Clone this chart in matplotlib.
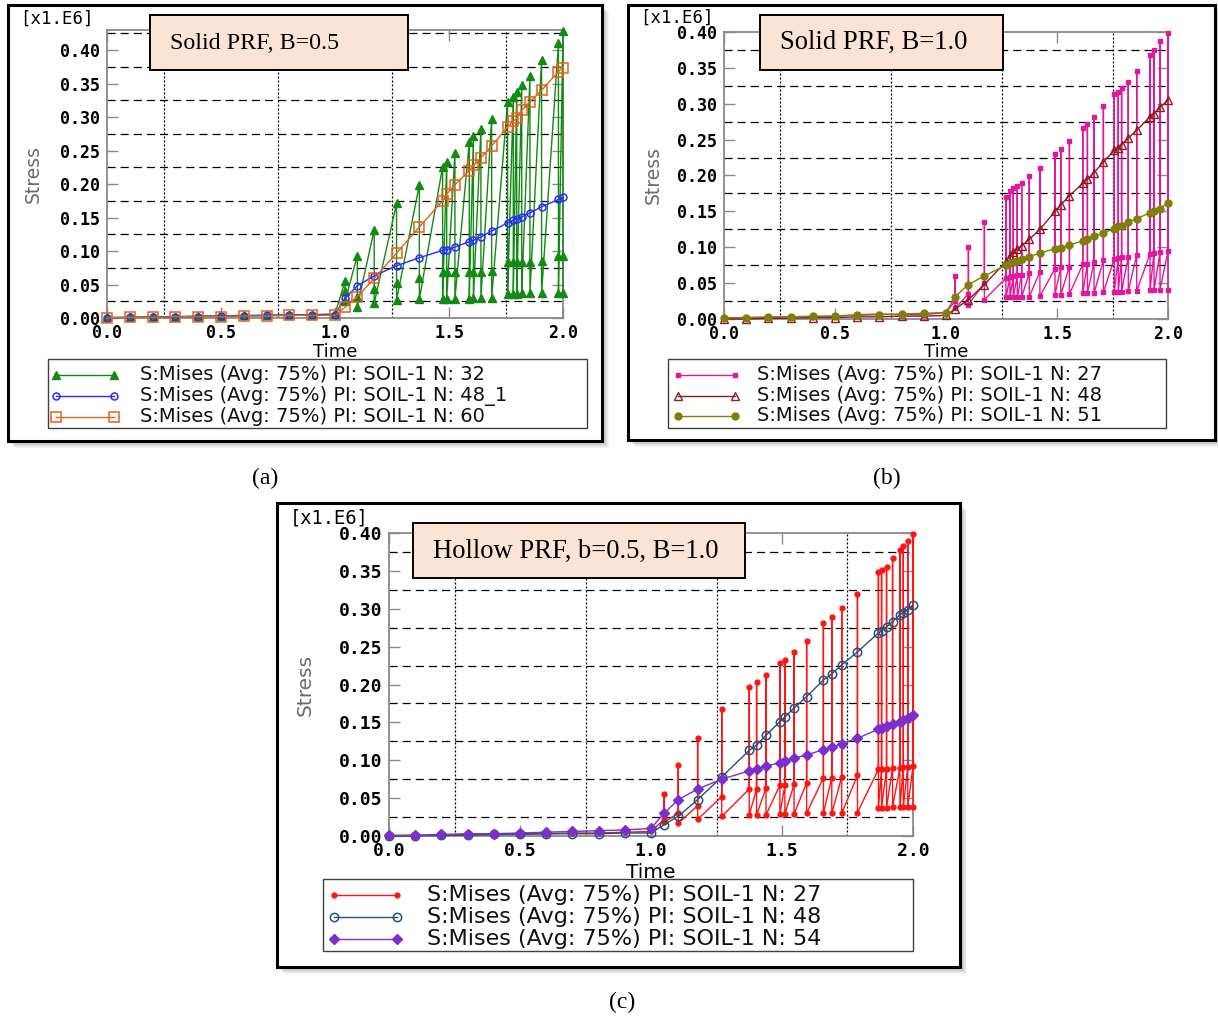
import matplotlib
matplotlib.use("Agg")
import matplotlib.pyplot as plt
from matplotlib.patches import Rectangle
from matplotlib.lines import Line2D
import numpy as np

W, H = 1218, 1017

# ---- shared time stamps of the first (loading) step -------------------------
T_STEP1 = [0.0, 0.1, 0.2, 0.3, 0.4, 0.5, 0.6, 0.7, 0.8, 0.9, 1.0]

# ---- (a) Solid PRF, B=0.5 ---------------------------------------------------
TA = [1.044, 1.098, 1.172, 1.27, 1.37, 1.472, 1.49, 1.526, 1.589, 1.607,
      1.64, 1.687, 1.757, 1.782, 1.797, 1.819, 1.855, 1.906, 1.98, 2.0]
A32_S1 = [0.001, 0.001, 0.002, 0.002, 0.003, 0.003, 0.004, 0.004, 0.005, 0.005, 0.006]
A32_HI = [0.055, 0.093, 0.132, 0.171, 0.199, 0.226, 0.233, 0.247, 0.263, 0.271,
          0.282, 0.297, 0.323, 0.330, 0.338, 0.348, 0.361, 0.385, 0.410, 0.429]
A32_MID = [0.040, 0.032, 0.043, 0.053, 0.060, 0.068, 0.068, 0.068, 0.069, 0.069,
           0.069, 0.070, 0.083, 0.083, 0.084, 0.084, 0.084, 0.085, 0.092, 0.093]
A32_LO = [0.025, 0.017, 0.022, 0.027, 0.028, 0.029, 0.029, 0.029, 0.029, 0.030,
          0.030, 0.030, 0.036, 0.036, 0.036, 0.037, 0.037, 0.037, 0.037, 0.037]
A48_S1 = [0.000, 0.001, 0.001, 0.002, 0.002, 0.003, 0.003, 0.004, 0.004, 0.005, 0.005]
A48 = [0.030, 0.048, 0.063, 0.078, 0.090, 0.101, 0.102, 0.106, 0.114, 0.116,
       0.121, 0.130, 0.142, 0.146, 0.148, 0.151, 0.157, 0.166, 0.177, 0.180]
A60_S1 = [0.000, 0.001, 0.001, 0.002, 0.002, 0.002, 0.003, 0.003, 0.004, 0.004, 0.004]
A60 = [0.016, 0.032, 0.059, 0.097, 0.136, 0.175, 0.185, 0.199, 0.220, 0.228,
       0.239, 0.257, 0.285, 0.294, 0.298, 0.310, 0.323, 0.340, 0.368, 0.374]
A_LABELS = ["S:Mises (Avg: 75%) PI: SOIL-1 N: 32",
            "S:Mises (Avg: 75%) PI: SOIL-1 N: 48_1",
            "S:Mises (Avg: 75%) PI: SOIL-1 N: 60"]

# ---- (b) Solid PRF, B=1.0 ---------------------------------------------------
TB = [1.041, 1.101, 1.173, 1.270, 1.288, 1.303, 1.321, 1.341, 1.375, 1.423,
      1.491, 1.517, 1.556, 1.616, 1.637, 1.667, 1.709, 1.758, 1.776, 1.791,
      1.821, 1.859, 1.919, 1.937, 1.964, 2.0]
B27_S1 = [0.001, 0.002, 0.002, 0.003, 0.003, 0.004, 0.006, 0.007, 0.006, 0.006, 0.009]
B27_HI = [0.060, 0.100, 0.135, 0.170, 0.178, 0.182, 0.185, 0.189, 0.199, 0.210,
          0.230, 0.237, 0.248, 0.266, 0.272, 0.282, 0.297, 0.314, 0.317, 0.322,
          0.331, 0.345, 0.368, 0.375, 0.387, 0.399]
B27_MID = [0.025, 0.035, 0.050, 0.057, 0.058, 0.060, 0.061, 0.062, 0.064, 0.066,
           0.070, 0.072, 0.073, 0.076, 0.077, 0.079, 0.082, 0.084, 0.085, 0.086,
           0.087, 0.089, 0.091, 0.092, 0.093, 0.095]
B27_LO = [0.015, 0.020, 0.027, 0.030, 0.030, 0.030, 0.030, 0.031, 0.031, 0.032,
          0.034, 0.034, 0.035, 0.036, 0.036, 0.036, 0.037, 0.038, 0.038, 0.038,
          0.039, 0.039, 0.040, 0.040, 0.041, 0.041]
B48_S1 = [0.000, 0.000, 0.001, 0.001, 0.002, 0.002, 0.003, 0.003, 0.004, 0.004, 0.005]
B48 = [0.014, 0.027, 0.048, 0.080, 0.088, 0.093, 0.097, 0.102, 0.111, 0.125,
       0.150, 0.159, 0.172, 0.189, 0.195, 0.204, 0.219, 0.235, 0.239, 0.243,
       0.252, 0.263, 0.282, 0.286, 0.295, 0.305]
B51_S1 = [0.002, 0.002, 0.003, 0.003, 0.004, 0.004, 0.005, 0.006, 0.007, 0.008, 0.009]
B51 = [0.031, 0.048, 0.060, 0.075, 0.078, 0.080, 0.081, 0.083, 0.087, 0.092,
       0.098, 0.099, 0.103, 0.109, 0.111, 0.115, 0.120, 0.126, 0.129, 0.130,
       0.135, 0.140, 0.148, 0.151, 0.154, 0.162]
B_LABELS = ["S:Mises (Avg: 75%) PI: SOIL-1 N: 27",
            "S:Mises (Avg: 75%) PI: SOIL-1 N: 48",
            "S:Mises (Avg: 75%) PI: SOIL-1 N: 51"]

# ---- (c) Hollow PRF, b=0.5, B=1.0 -------------------------------------------
TC = [1.05, 1.104, 1.178, 1.27, 1.375, 1.403, 1.439, 1.492, 1.511, 1.546,
      1.594, 1.658, 1.690, 1.728, 1.788, 1.868, 1.880, 1.899, 1.922, 1.950,
      1.963, 1.980, 2.0]
C27_S1 = [0.000, 0.001, 0.001, 0.002, 0.002, 0.003, 0.003, 0.004, 0.004, 0.005, 0.006]
C27_HI = [0.055, 0.094, 0.130, 0.167, 0.197, 0.203, 0.212, 0.228, 0.233, 0.243,
          0.258, 0.281, 0.289, 0.301, 0.319, 0.348, 0.351, 0.355, 0.367, 0.378,
          0.383, 0.390, 0.399]
C27_MID = [0.022, 0.030, 0.040, 0.052, 0.062, 0.062, 0.063, 0.067, 0.067, 0.068,
           0.070, 0.077, 0.077, 0.078, 0.080, 0.088, 0.088, 0.089, 0.090, 0.090,
           0.091, 0.091, 0.092]
C27_LO = [0.018, 0.017, 0.022, 0.026, 0.028, 0.028, 0.028, 0.029, 0.029, 0.029,
          0.030, 0.030, 0.030, 0.030, 0.031, 0.037, 0.037, 0.037, 0.038, 0.038,
          0.038, 0.038, 0.038]
C48_S1 = [0.000, 0.000, 0.001, 0.001, 0.002, 0.002, 0.003, 0.003, 0.003, 0.004, 0.004]
C48 = [0.015, 0.026, 0.048, 0.078, 0.113, 0.120, 0.133, 0.151, 0.157, 0.169,
       0.184, 0.206, 0.214, 0.226, 0.243, 0.268, 0.271, 0.276, 0.283, 0.292,
       0.295, 0.299, 0.305]
C54_S1 = [0.001, 0.001, 0.002, 0.003, 0.003, 0.004, 0.005, 0.006, 0.007, 0.008, 0.010]
C54 = [0.030, 0.048, 0.062, 0.075, 0.086, 0.089, 0.092, 0.097, 0.099, 0.103,
       0.107, 0.114, 0.117, 0.122, 0.129, 0.141, 0.143, 0.145, 0.148, 0.151,
       0.153, 0.156, 0.160]
C_LABELS = ["S:Mises (Avg: 75%) PI: SOIL-1 N: 27",
            "S:Mises (Avg: 75%) PI: SOIL-1 N: 48",
            "S:Mises (Avg: 75%) PI: SOIL-1 N: 54"]

X_TICKS = [0.0, 0.5, 1.0, 1.5, 2.0]
Y_TICKS = [0.0, 0.05, 0.10, 0.15, 0.20, 0.25, 0.30, 0.35, 0.40]

MONO = "DejaVu Sans Mono"
SERIF = "Liberation Serif"
NARROW = ["Liberation Sans Narrow", "DejaVu Sans"]


def fx(x):
    return x / W


def fy(y):
    return 1 - y / H


def px_rect(x0, y0, x1, y1):
    return [x0 / W, 1 - y1 / H, (x1 - x0) / W, (y1 - y0) / H]


def history(t1, v1, t2, *levels):
    """Join step-1 history with step-2 frames; each frame may hold several values."""
    xs, ys = list(t1), list(v1)
    for i, t in enumerate(t2):
        for lev in levels:
            xs.append(t)
            ys.append(lev[i])
    return xs, ys


def framed_panel(fig, x0, y0, x1, y1):
    for k in range(1, 8):
        fig.add_artist(Rectangle((fx(x0 + k), fy(y1 + k)), (x1 - x0) / W, (y1 - y0) / H,
                                 transform=fig.transFigure, fc="black", ec="none",
                                 alpha=0.045, zorder=-3))
    fig.add_artist(Rectangle((fx(x0), fy(y1)), (x1 - x0) / W, (y1 - y0) / H,
                             transform=fig.transFigure, fc="white", ec="black",
                             lw=2.2, zorder=-2))


def style_axes(ax, ymax, tick_size):
    ax.set_xlim(0, 2.0)
    ax.set_ylim(0, ymax)
    ax.set_xticks(X_TICKS)
    ax.set_xticklabels([f"{v:.1f}" for v in X_TICKS], fontfamily=MONO,
                       fontweight="bold", fontsize=tick_size)
    ax.set_yticks(Y_TICKS)
    ax.set_yticklabels([f"{v:.2f}" for v in Y_TICKS], fontfamily=MONO,
                       fontweight="bold", fontsize=tick_size)
    ax.tick_params(direction="in", length=8, width=1.0, color="#8a8a8a",
                   top=True, right=True, pad=5)
    ax.tick_params(axis="x", pad=4)
    for s in ax.spines.values():
        s.set_color("#8a8a8a")
        s.set_linewidth(1.3)
    for g in [0.25, 0.75, 1.25, 1.75]:
        ax.axvline(g, color="black", lw=0.9, ls=(0, (1.6, 1.6)), zorder=1)
    for g in np.arange(0.025, ymax, 0.05):
        ax.axhline(g, color="black", lw=0.9, ls=(0, (6.5, 4)), zorder=1)


def draw_key(fig, box, rows_y, handle_x, text_x, lines, labels, size):
    x0, y0, x1, y1 = box
    fig.add_artist(Rectangle((fx(x0), fy(y1)), (x1 - x0) / W, (y1 - y0) / H,
                             transform=fig.transFigure, fill=False, ec="#404040", lw=1.0))
    for y, ln, lab in zip(rows_y, lines, labels):
        fig.add_artist(Line2D([fx(handle_x[0]), fx(handle_x[1])], [fy(y), fy(y)],
                              transform=fig.transFigure, color=ln.get_color(),
                              lw=ln.get_linewidth(), marker=ln.get_marker(),
                              ms=ln.get_markersize(), mfc=ln.get_markerfacecolor(),
                              mec=ln.get_markeredgecolor(), mew=ln.get_markeredgewidth()))
        fig.text(fx(text_x), fy(y), lab, ha="left", va="center", fontsize=size,
                 color="#111111", family="DejaVu Sans")


def title_box(fig, box, text, baseline, size):
    x0, y0, x1, y1 = box
    fig.add_artist(Rectangle((fx(x0), fy(y1)), (x1 - x0) / W, (y1 - y0) / H,
                             transform=fig.transFigure, fc="#fbe4d5", ec="black",
                             lw=1.4, zorder=5))
    fig.text(fx(x0 + 20), fy(baseline), text, ha="left", va="baseline",
             fontsize=size, family=SERIF, zorder=6)


def axis_texts(fig, ax, ax_px, stress_x, time_y, unit_xy, size, stress_size, unit_size):
    x0, y0, x1, y1 = ax_px
    ax.set_ylabel("Stress", color="#6b6b6b", fontsize=stress_size, family=NARROW,
                  va="center")
    ax.yaxis.set_label_coords(-(x0 - stress_x) / (x1 - x0), 0.5)
    ax.set_xlabel("Time", fontsize=size, family="DejaVu Sans", va="center")
    ax.xaxis.set_label_coords(0.5, -(time_y - y1) / (y1 - y0))
    fig.text(fx(unit_xy[0]), fy(unit_xy[1]), "[x1.E6]", ha="left", va="center",
             fontsize=unit_size, family=MONO, color="black")


fig = plt.figure(figsize=(W / 100, H / 100), dpi=100)
fig.patch.set_facecolor("white")

# ============================ panel (a) =====================================
framed_panel(fig, 8, 5, 602, 441)
AX_A = (107, 30, 563, 318)
ax = fig.add_axes(px_rect(*AX_A))
style_axes(ax, 0.43, 12)
x, y = history(T_STEP1, A32_S1, TA, A32_HI, A32_MID, A32_LO)
la1, = ax.plot(x, y, color="#138a13", lw=1.0, marker="^", ms=6, clip_on=False, zorder=3)
x, y = history(T_STEP1, A48_S1, TA, A48)
la2, = ax.plot(x, y, color="#2b2bff", lw=1.0, marker="o", ms=5, mfc="none",
               mew=1.1, clip_on=False, zorder=4)
x, y = history(T_STEP1, A60_S1, TA, A60)
la3, = ax.plot(x, y, color="#e0621c", lw=1.0, marker="s", ms=6.5, mfc="none",
               mew=1.1, clip_on=False, zorder=4)
axis_texts(fig, ax, AX_A, 33, 352, (20, 19), 13, 13.5, 12.5)
title_box(fig, (150, 15, 408, 70), "Solid PRF, B=0.5", 49, 17.3)
draw_key(fig, (48, 359, 587, 428), (375, 396, 417), (56, 114), 140,
         [la1, la2, la3], A_LABELS, 14)
fig.text(fx(265), fy(478), "(a)", ha="center", va="center", fontsize=17, family=SERIF)

# ============================ panel (b) =====================================
framed_panel(fig, 628, 5, 1215, 440)
AX_B = (724, 32, 1168, 319)
ax = fig.add_axes(px_rect(*AX_B))
style_axes(ax, 0.40, 12)
x, y = history(T_STEP1, B27_S1, TB, B27_MID, B27_HI, B27_LO)
lb1, = ax.plot(x, y, color="#e2189c", lw=1.0, marker="s", ms=3.5, clip_on=False, zorder=3)
x, y = history(T_STEP1, B48_S1, TB, B48)
lb2, = ax.plot(x, y, color="#8e1c1c", lw=1.0, marker="^", ms=6, mfc="none",
               mew=1.0, clip_on=False, zorder=4)
x, y = history(T_STEP1, B51_S1, TB, B51)
lb3, = ax.plot(x, y, color="#7f7f0c", lw=1.0, marker="o", ms=5, clip_on=False, zorder=4)
axis_texts(fig, ax, AX_B, 653, 352, (640, 18), 13, 13.5, 12.5)
title_box(fig, (760, 15, 1003, 70), "Solid PRF, B=1.0", 49, 19.2)
draw_key(fig, (668, 359, 1166, 428), (375, 396, 416), (678, 735), 757,
         [lb1, lb2, lb3], B_LABELS, 14)
fig.text(fx(887), fy(478), "(b)", ha="center", va="center", fontsize=17, family=SERIF)

# ============================ panel (c) =====================================
framed_panel(fig, 277, 503, 960, 967)
AX_C = (389, 533, 913, 836)
ax = fig.add_axes(px_rect(*AX_C))
style_axes(ax, 0.40, 13)
x, y = history(T_STEP1, C27_S1, TC, C27_MID, C27_HI, C27_LO)
lc1, = ax.plot(x, y, color="#ff1414", lw=1.0, marker="o", ms=3.5, clip_on=False, zorder=3)
x, y = history(T_STEP1, C48_S1, TC, C48)
lc2, = ax.plot(x, y, color="#22527e", lw=1.0, marker="o", ms=6, mfc="none",
               mew=1.1, clip_on=False, zorder=4)
x, y = history(T_STEP1, C54_S1, TC, C54)
lc3, = ax.plot(x, y, color="#7c2fc8", lw=1.0, marker="D", ms=5.5, clip_on=False, zorder=4)
axis_texts(fig, ax, AX_C, 305, 872, (290, 518), 14.5, 14.5, 13.5)
title_box(fig, (413, 523, 745, 578), "Hollow PRF, b=0.5, B=1.0", 558, 19.2)
draw_key(fig, (323, 879, 913, 951), (895, 917, 939), (334, 397), 427,
         [lc1, lc2, lc3], C_LABELS, 16)
fig.text(fx(622), fy(1002), "(c)", ha="center", va="center", fontsize=17, family=SERIF)

fig.savefig("out.png", dpi=100)
